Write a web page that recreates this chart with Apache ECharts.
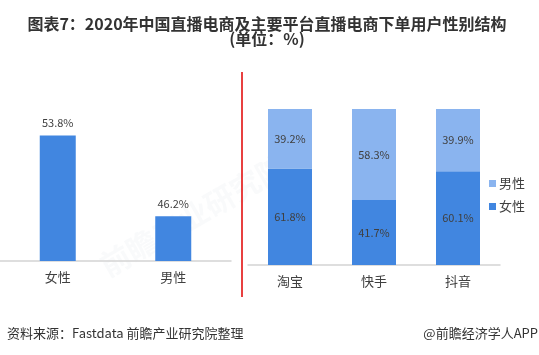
<!DOCTYPE html>
<html>
<head>
<meta charset="utf-8">
<script src="https://cdn.jsdelivr.net/npm/echarts@6/dist/echarts.min.js"></script>
<style>
html,body{margin:0;padding:0;background:#fff;}
#c{width:539px;height:355px;}
</style>
</head>
<body>
<div id="c"></div>
<script>
var titleText = '图表7：2020年中国直播电商及主要平台直播电商下单用户性别结构\n(单位：%)';
var overallCats = ['女性', '男性'];
var overallVals = [53.8, 46.2];
var platformCats = ['淘宝', '快手', '抖音'];
var femaleVals = [61.8, 41.7, 60.1];
var maleVals = [39.2, 58.3, 39.9];
var sourceText = '资料来源：Fastdata 前瞻产业研究院整理';
var brandText = '@前瞻经济学人APP';

var FONT = '"Noto Sans CJK SC", "Noto Sans", sans-serif';
var DARK = '#4186e0';
var LIGHT = '#8ab4ef';
var TXT = '#404040';

var chart = echarts.init(document.getElementById('c'), null, {renderer: 'canvas'});
chart.setOption({
  animation: false,
  backgroundColor: '#fff',
  textStyle: {fontFamily: FONT},
  title: {
    text: titleText,
    left: 262, top: 11, textAlign: 'center',
    textStyle: {fontFamily: FONT, fontSize: 16, fontWeight: 'bold', color: '#333', lineHeight: 15}
  },
  graphic: [
    {type: 'text', left: 95, top: 150, rotation: Math.PI / 6, silent: true, z: 0,
     style: {text: '前瞻产业研究院', font: 'bold 30px ' + FONT, fill: 'rgba(200,205,215,0.10)'}},
    {type: 'line', shape: {x1: 242, y1: 72, x2: 242, y2: 297}, style: {stroke: '#e00000', lineWidth: 1.5}},
    {type: 'text', left: 7, top: 327, style: {text: sourceText, font: '13px ' + FONT, fill: '#333'}},
    {type: 'text', right: 1, top: 327, style: {text: brandText, font: '13px ' + FONT, fill: '#333'}}
  ],
  legend: {
    orient: 'vertical', left: 484, top: 172,
    itemWidth: 7, itemHeight: 7, itemGap: 10, icon: 'rect',
    textStyle: {fontFamily: FONT, fontSize: 13, color: TXT, padding: [0, 0, 0, -2]},
    data: ['男性', '女性']
  },
  grid: [
    {left: 0, right: 308, top: 112, bottom: 94},
    {left: 248, right: 39, top: 109, bottom: 90}
  ],
  xAxis: [
    {type: 'category', gridIndex: 0, data: overallCats,
     axisLine: {lineStyle: {color: '#d4d4d4', width: 1.5}}, axisTick: {show: false},
     axisLabel: {fontFamily: FONT, fontSize: 13, color: TXT, margin: 10}},
    {type: 'category', gridIndex: 1, data: platformCats,
     axisLine: {lineStyle: {color: '#d4d4d4', width: 1.5}}, axisTick: {show: false},
     axisLabel: {fontFamily: FONT, fontSize: 13, color: TXT, margin: 10}}
  ],
  yAxis: [
    {type: 'value', gridIndex: 0, min: 42, max: 56, show: false},
    {type: 'value', gridIndex: 1, min: 0, max: 100, show: false}
  ],
  series: [
    {name: '总体', type: 'bar', xAxisIndex: 0, yAxisIndex: 0, data: overallVals, barWidth: 36,
     itemStyle: {color: DARK},
     label: {show: true, position: 'top', distance: 7, formatter: '{c}%', fontFamily: FONT, fontSize: 11, color: TXT}},
    {name: '女性', type: 'bar', stack: 'p', xAxisIndex: 1, yAxisIndex: 1, data: femaleVals, barWidth: 44,
     itemStyle: {color: DARK},
     label: {show: true, position: 'inside', formatter: '{c}%', fontFamily: FONT, fontSize: 11, color: TXT}},
    {name: '男性', type: 'bar', stack: 'p', xAxisIndex: 1, yAxisIndex: 1, data: maleVals, barWidth: 44,
     itemStyle: {color: LIGHT},
     label: {show: true, position: 'inside', formatter: '{c}%', fontFamily: FONT, fontSize: 11, color: TXT}}
  ]
});
</script>
</body>
</html>
